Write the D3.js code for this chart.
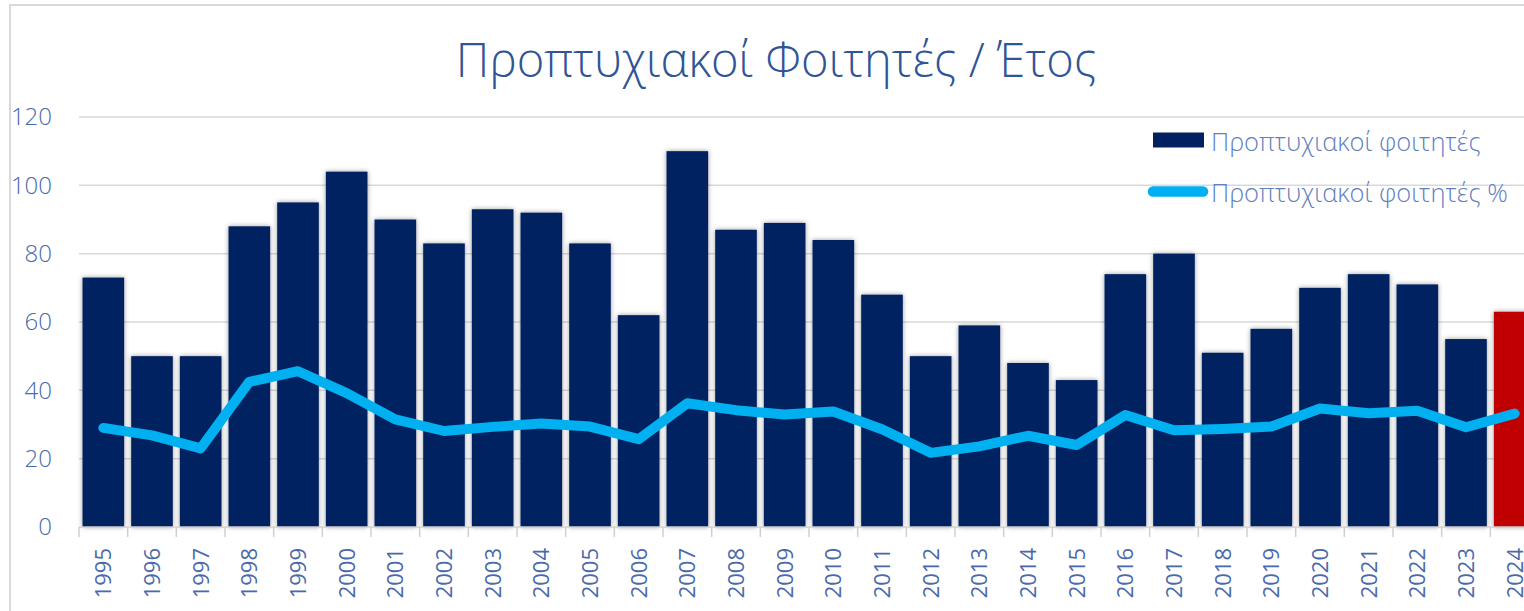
<!DOCTYPE html>
<html>
<head>
<meta charset="utf-8">
<script src="https://cdn.jsdelivr.net/npm/d3@7"></script>
<style>
  body { margin: 0; background: #fff; }
  text { font-family: "Open Sans", "Noto Sans", sans-serif; }
</style>
</head>
<body>
<div id="chart"></div>
<script>
// data
const years = ["1995","1996","1997","1998","1999","2000","2001","2002","2003","2004",
               "2005","2006","2007","2008","2009","2010","2011","2012","2013","2014",
               "2015","2016","2017","2018","2019","2020","2021","2022","2023","2024"];
const students = [73, 50, 50, 88, 95, 104, 90, 83, 93, 92,
                  83, 62, 110, 87, 89, 84, 68, 50, 59, 48,
                  43, 74, 80, 51, 58, 70, 74, 71, 55, 63];
const studentsPct = [29, 26.8, 23, 42.5, 45.6, 39.2, 31.5, 28.1, 29.3, 30.3,
                     29.4, 25.7, 36.2, 34.2, 32.9, 33.8, 28.6, 21.7, 23.6, 26.7,
                     24, 32.8, 28.3, 28.7, 29.4, 34.7, 33.3, 34, 29.2, 33.2];
const yTicks = [0, 20, 40, 60, 80, 100, 120];
const title = "Προπτυχιακοί Φοιτητές / Έτος";
const legendLabels = ["Προπτυχιακοί φοιτητές", "Προπτυχιακοί φοιτητές %"];

const W = 1524, H = 611;
const margin = {top: 117, left: 79, bottom: 84};
const plotH = H - margin.top - margin.bottom;

const svg = d3.select("#chart").append("svg")
    .attr("width", W)
    .attr("height", H);

// soft glow shadow behind the bars
const defs = svg.append("defs");
const f = defs.append("filter").attr("id", "barShadow")
    .attr("x", "-30%").attr("y", "-10%").attr("width", "160%").attr("height", "120%");
f.append("feDropShadow")
    .attr("dx", 0).attr("dy", 0)
    .attr("stdDeviation", 2.5)
    .attr("flood-color", "#000")
    .attr("flood-opacity", 0.4);

// outer border
svg.append("rect")
    .attr("x", 10).attr("y", 5)
    .attr("width", W + 50).attr("height", H + 50)
    .attr("fill", "none")
    .attr("stroke", "#d9d9d9")
    .attr("stroke-width", 2);

// title
svg.append("text")
    .attr("x", 776).attr("y", 77)
    .attr("text-anchor", "middle")
    .attr("fill", "#2f5597")
    .style("font-size", "47px")
    .style("font-weight", 300)
    .text(title);

// scales
const x = d3.scaleBand()
    .domain(years)
    .range([79, 1539])
    .paddingInner(0.145)
    .paddingOuter(0.0725);

const y = d3.scaleLinear()
    .domain([0, 120])
    .range([margin.top + plotH, margin.top]);

// gridlines
svg.append("g").attr("class", "grid")
    .selectAll("line")
    .data(yTicks.filter(d => d > 0))
    .join("line")
    .attr("x1", 79).attr("x2", W)
    .attr("y1", d => y(d)).attr("y2", d => y(d))
    .attr("stroke", "#d9d9d9")
    .attr("stroke-width", 1.5);

// y axis labels
const yAxis = svg.append("g")
    .attr("transform", "translate(52,0)")
    .call(d3.axisLeft(y).tickValues(yTicks).tickSize(0).tickPadding(0));
yAxis.select(".domain").remove();
yAxis.selectAll("text")
    .attr("fill", "#4a6aab")
    .style("font-size", "24px")
    .style("font-weight", 300)
    .style("font-family", "\"Open Sans\", sans-serif");

// bars
svg.append("g").attr("class", "bars")
    .selectAll("rect")
    .data(years)
    .join("rect")
    .attr("x", d => x(d))
    .attr("y", (d, i) => y(students[i]))
    .attr("width", x.bandwidth())
    .attr("height", (d, i) => y(0) - y(students[i]))
    .attr("fill", d => d === "2024" ? "#c00000" : "#002060")
    .attr("filter", "url(#barShadow)");

// x axis: baseline, ticks between categories, rotated year labels
const step = x.step();
const xAxis = svg.append("g").attr("class", "x-axis");
xAxis.append("line")
    .attr("x1", 79).attr("x2", W)
    .attr("y1", y(0)).attr("y2", y(0))
    .attr("stroke", "#d0d0d0")
    .attr("stroke-width", 1.5);
xAxis.selectAll("line.tick")
    .data(years)
    .join("line")
    .attr("class", "tick")
    .attr("x1", d => x(d) - (step - x.bandwidth()) / 2)
    .attr("x2", d => x(d) - (step - x.bandwidth()) / 2)
    .attr("y1", y(0)).attr("y2", y(0) + 10)
    .attr("stroke", "#d0d0d0")
    .attr("stroke-width", 1.5);
xAxis.selectAll("text")
    .data(years)
    .join("text")
    .attr("transform", d => `translate(${x(d) + x.bandwidth() / 2},${y(0) + 21}) rotate(-90)`)
    .attr("text-anchor", "end")
    .attr("dy", "0.36em")
    .attr("fill", "#4a6aab")
    .style("font-size", "22px")
    .text(d => d);

// percentage line
const line = d3.line()
    .x((d, i) => x(years[i]) + x.bandwidth() / 2)
    .y(d => y(d));

svg.append("path")
    .datum(studentsPct)
    .attr("d", line)
    .attr("fill", "none")
    .attr("stroke", "#00b0f0")
    .attr("stroke-width", 10)
    .attr("stroke-linecap", "round")
    .attr("stroke-linejoin", "round");

// legend
const legend = svg.append("g").attr("class", "legend");
legend.append("rect")
    .attr("x", 1153).attr("y", 132.5)
    .attr("width", 51).attr("height", 15)
    .attr("fill", "#002060");
legend.append("line")
    .attr("x1", 1153).attr("x2", 1203)
    .attr("y1", 191.5).attr("y2", 191.5)
    .attr("stroke", "#00b0f0")
    .attr("stroke-width", 10.5)
    .attr("stroke-linecap", "round");
legend.selectAll("text")
    .data(legendLabels)
    .join("text")
    .attr("x", 1211)
    .attr("y", (d, i) => 150.5 + i * 51)
    .attr("fill", "#5f7fc0")
    .style("font-size", "25.5px")
    .style("font-weight", 300)
    .text(d => d);
</script>
</body>
</html>
